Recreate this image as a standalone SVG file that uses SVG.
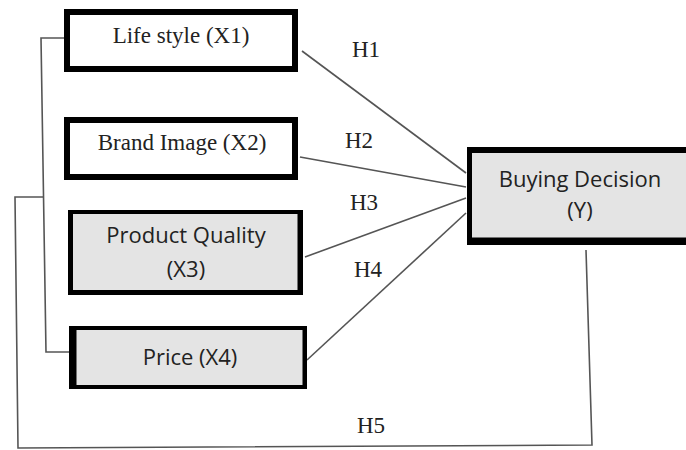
<svg xmlns="http://www.w3.org/2000/svg" width="686" height="450" viewBox="0 0 686 450">
  <style>
    .frame { fill: #000; }
    .plain { fill: #fff; }
    .shade { fill: #e4e4e4; }
    .serif { font-family: "Liberation Serif", "Times New Roman", serif; font-size: 23px; fill: #222; text-anchor: middle; }
    .sans { font-family: "Open Sans", "Noto Sans", sans-serif; font-size: 22px; fill: #222; text-anchor: middle; }
    .link { fill: none; stroke: #555; stroke-width: 1.6; stroke-linejoin: miter; }
  </style>
  <rect width="686" height="450" fill="#fff"/>

  <!-- connectors -->
  <g id="connectors">
    <path class="link" d="M302,51 L466,173"/>
    <path class="link" d="M300,157 L466,187"/>
    <path class="link" d="M305,257 L466,198"/>
    <path class="link" d="M307,360 L466,213"/>
    <!-- bracket joining the four predictors -->
    <path class="link" d="M64,38 L41,38 L46,352 L69,352"/>
    <!-- H5 return path -->
    <path class="link" d="M43,197 L15,197 L18,448 L592,445 L586,250"/>
    <text class="serif" x="366" y="57">H1</text>
    <text class="serif" x="359" y="148">H2</text>
    <text class="serif" x="364" y="210">H3</text>
    <text class="serif" x="368" y="277">H4</text>
    <text class="serif" x="371" y="433">H5</text>
  </g>

  <g id="lifestyle">
    <rect class="frame" x="64" y="9" width="234" height="63"/>
    <rect class="plain" x="70" y="15" width="222" height="51"/>
    <text class="serif" x="181" y="43">Life style (X1)</text>
  </g>

  <g id="brand-image">
    <rect class="frame" x="64" y="117" width="234" height="63"/>
    <rect class="plain" x="70" y="123" width="222" height="51"/>
    <text class="serif" x="182" y="150">Brand Image (X2)</text>
  </g>

  <g id="product-quality">
    <rect class="frame" x="68" y="210" width="235" height="85"/>
    <rect class="shade" x="73" y="214" width="224.5" height="76"/>
    <text class="sans" x="186" y="243">Product Quality</text>
    <text class="sans" x="186" y="277">(X3)</text>
  </g>

  <g id="price">
    <rect class="frame" x="69" y="326" width="238" height="63"/>
    <rect class="shade" x="76.5" y="330" width="226" height="55"/>
    <text class="sans" x="190" y="365">Price (X4)</text>
  </g>

  <g id="buying-decision">
    <rect class="frame" x="467" y="147" width="225" height="98"/>
    <rect class="shade" x="472" y="153" width="220" height="84.5"/>
    <text class="sans" x="580" y="187">Buying Decision</text>
    <text class="sans" x="580" y="218">(Y)</text>
  </g>
</svg>
